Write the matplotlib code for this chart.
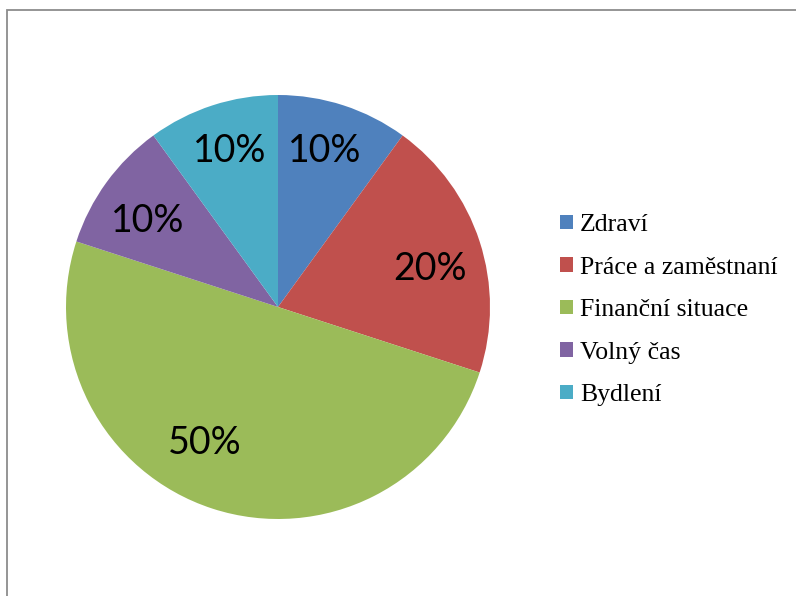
import matplotlib.pyplot as plt
from matplotlib.patches import Rectangle, Patch

categories = ['Zdraví', 'Práce a zaměstnaní', 'Finanční situace', 'Volný čas', 'Bydlení']
values = [10, 20, 50, 10, 10]
colors = ['#4F81BD', '#C0504D', '#9BBB59', '#8064A2', '#4BACC6']

W, H = 796, 596
fig = plt.figure(figsize=(W / 100, H / 100), dpi=100, facecolor='white')

# outer chart frame (runs off the right and bottom edge)
fig.patches.append(Rectangle((7 / W, -0.05), 1.1, 1 - 10 / H + 0.05, transform=fig.transFigure,
                             fill=False, edgecolor='#8c8c8c', linewidth=1.3))

cx, cy, r = 278, 307, 212
ax = fig.add_axes([(cx - r) / W, (H - cy - r) / H, 2 * r / W, 2 * r / H])
wedges, texts, autotexts = ax.pie(values, colors=colors, startangle=90, counterclock=False,
                                  autopct='%1.0f%%', pctdistance=0.76,
                                  wedgeprops={'linewidth': 0},
                                  textprops={'fontsize': 27, 'family': ['Lato', 'DejaVu Sans'],
                                             'color': 'black'})
ax.set_xlim(-1, 1)
ax.set_ylim(-1, 1)
# label placement like Excel's "best fit"
label_pos = [(0.222, 0.735), (0.717, 0.18), (-0.344, -0.64), (-0.613, 0.405), (-0.226, 0.735)]
for t, p in zip(autotexts, label_pos):
    t.set_position(p)

handles = [Patch(facecolor=c, edgecolor='none') for c in colors]
fig.legend(handles, categories, loc='upper left', bbox_to_anchor=(560 / W, 1 - 214 / H),
           frameon=False, prop={'family': 'Liberation Serif', 'size': 18.5},
           handlelength=0.5, handleheight=0.5, handletextpad=0.27, labelspacing=0.8,
           borderaxespad=0, borderpad=0)

fig.savefig('out.png', dpi=100, facecolor='white')
